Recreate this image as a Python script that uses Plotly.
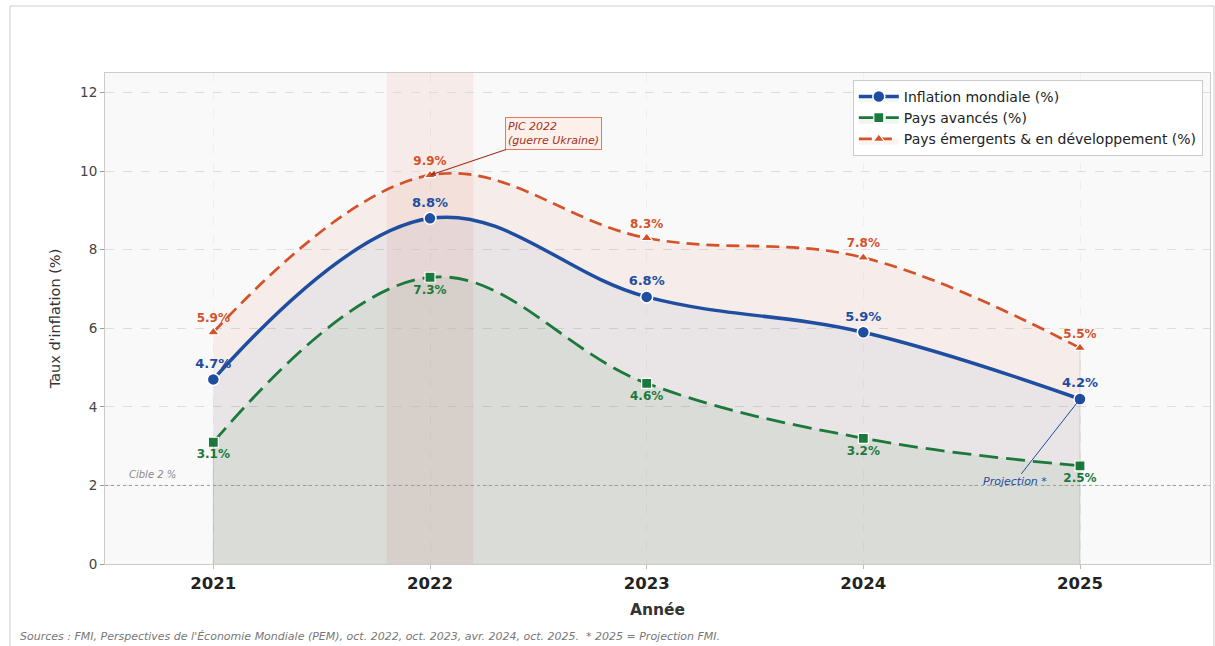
import plotly.graph_objs as go

annees = [2021, 2022, 2023, 2024, 2025]
inflation_mondiale = [4.7, 8.8, 6.8, 5.9, 4.2]
pays_avances = [3.1, 7.3, 4.6, 3.2, 2.5]
pays_emergents = [5.9, 9.9, 8.3, 7.8, 5.5]

BLEU = '#1f4ea1'
VERT = '#1b7a3b'
ORANGE = '#d4522a'
POLICE = 'DejaVu Sans'


def etiquettes(valeurs):
    return [f"{v:.1f}%" for v in valeurs]


trace_emergents = go.Scatter(
    x=annees,
    y=pays_emergents,
    mode='lines+markers+text',
    name='Pays émergents & en développement (%)',
    line=dict(color=ORANGE, width=2.7, dash='13px,7px', shape='spline', smoothing=1.1),
    marker=dict(symbol='triangle-up', size=10, color=ORANGE, line=dict(color='white', width=1.2)),
    fill='tozeroy',
    fillcolor='rgba(212,82,42,0.07)',
    text=etiquettes(pays_emergents),
    textposition='top center',
    textfont=dict(family=POLICE, size=12, color=ORANGE, weight='bold'),
    legendrank=3
)

trace_mondiale = go.Scatter(
    x=annees,
    y=inflation_mondiale,
    mode='lines+markers+text',
    name='Inflation mondiale (%)',
    line=dict(color=BLEU, width=3.5, shape='spline', smoothing=1.1),
    marker=dict(symbol='circle', size=12, color=BLEU, line=dict(color='white', width=1.5)),
    fill='tozeroy',
    fillcolor='rgba(31,78,161,0.06)',
    text=etiquettes(inflation_mondiale),
    textposition='top center',
    textfont=dict(family=POLICE, size=13, color=BLEU, weight='bold'),
    legendrank=1
)

trace_avances = go.Scatter(
    x=annees,
    y=pays_avances,
    mode='lines+markers+text',
    name='Pays avancés (%)',
    line=dict(color=VERT, width=2.8, dash='19px,8px', shape='spline', smoothing=1.1),
    marker=dict(symbol='square', size=10, color=VERT, line=dict(color='white', width=1.2)),
    fill='tozeroy',
    fillcolor='rgba(27,122,59,0.07)',
    text=etiquettes(pays_avances),
    textposition='bottom center',
    textfont=dict(family=POLICE, size=12, color=VERT, weight='bold'),
    legendrank=2
)

data = [trace_emergents, trace_mondiale, trace_avances]

layout = go.Layout(
    width=1215,
    height=646,
    paper_bgcolor='white',
    plot_bgcolor='#f9f9f9',
    font=dict(family=POLICE, color='#333333'),
    showlegend=True,
    legend=dict(
        x=0.9935, y=0.986,
        xanchor='right', yanchor='top',
        bgcolor='white',
        bordercolor='#cccccc',
        borderwidth=1,
        font=dict(family=POLICE, size=14, color='#222222'),
        tracegroupgap=0,
        itemwidth=40
    ),
    xaxis=dict(
        range=[2020.5, 2025.6],
        tickvals=annees,
        ticktext=[str(a) for a in annees],
        tickfont=dict(family=POLICE, size=16.5, color='#222222', weight='bold'),
        title=dict(text='Année', font=dict(family=POLICE, size=15.5, color='#333333', weight='bold'), standoff=12),
        showgrid=True,
        gridcolor='rgba(0,0,0,0.04)',
        griddash='dash',
        zeroline=False,
        showline=True,
        linecolor='#cccccc',
        linewidth=1,
        mirror=True,
        ticks='outside',
        ticklen=4,
        tickcolor='#bbbbbb'
    ),
    yaxis=dict(
        range=[0, 12.5],
        tickvals=[0, 2, 4, 6, 8, 10, 12],
        tickfont=dict(family=POLICE, size=13.5, color='#444444'),
        title=dict(text="Taux d'inflation (%)", font=dict(family=POLICE, size=14.5, color='#333333'), standoff=16),
        showgrid=True,
        gridcolor='#dddddd',
        griddash='dash',
        zeroline=False,
        showline=True,
        linecolor='#cccccc',
        linewidth=1,
        mirror=True,
        ticks='outside',
        ticklen=4,
        tickcolor='#999999'
    ),
    margin=dict(l=105, r=5, t=73, b=82),
    shapes=[
        # bande 2022
        dict(type='rect', xref='x', yref='paper', x0=2021.8, x1=2022.2, y0=0, y1=1,
             fillcolor='rgba(212,82,42,0.08)', line=dict(width=0), layer='below'),
        # cible 2 %
        dict(type='line', xref='paper', yref='y', x0=0, x1=1, y0=2, y1=2,
             line=dict(color='#999999', width=1, dash='dot')),
        # bords du remplissage
        dict(type='line', xref='x', yref='y', x0=2021, x1=2021, y0=0, y1=3.1,
             line=dict(color='rgba(0,0,0,0.15)', width=1)),
        dict(type='line', xref='x', yref='y', x0=2025, x1=2025, y0=0, y1=5.5,
             line=dict(color='rgba(0,0,0,0.12)', width=1)),
        # cadre
        dict(type='rect', xref='paper', yref='paper', x0=-0.086, x1=1.0036, y0=-0.18, y1=1.1365,
             line=dict(color='#cccccc', width=1), fillcolor='rgba(0,0,0,0)')
    ],
    annotations=[
        dict(x=2022, y=9.9, xref='x', yref='y', ax=2022.57, ay=10.96, axref='x', ayref='y',
             text='<i>PIC 2022<br>(guerre Ukraine)</i>', showarrow=True,
             arrowhead=2, arrowsize=1, arrowwidth=1.1, arrowcolor='#a0301a',
             font=dict(family=POLICE, size=11, color='#a0301a'),
             bgcolor='#fdf0ea', bordercolor='#e07a5a', borderwidth=1, borderpad=2,
             align='left'),
        dict(x=2025, y=4.2, xref='x', yref='y', ax=2024.7, ay=2.09, axref='x', ayref='y',
             text='<i>Projection *</i>', showarrow=True,
             arrowhead=2, arrowsize=1, arrowwidth=1, arrowcolor=BLEU,
             font=dict(family=POLICE, size=11, color=BLEU)),
        dict(x=2020.6, y=2.1, xref='x', yref='y', xanchor='left', yanchor='bottom',
             text='<i>Cible 2 %</i>', showarrow=False,
             font=dict(family=POLICE, size=10, color='#888888')),
        dict(x=-0.079, y=-0.148, xref='paper', yref='paper', xanchor='left', yanchor='middle',
             text="<i>Sources : FMI, Perspectives de l'Économie Mondiale (PEM), oct. 2022, oct. 2023, avr. 2024, oct. 2025.  * 2025 = Projection FMI.</i>",
             showarrow=False, font=dict(family=POLICE, size=11, color='#777777'))
    ]
)

config = {'displayModeBar': False}

fig = go.Figure(data=data, layout=layout)
# pas de marge autour du graphique dans la page
fig.write_html("out.html", config=config, post_script="document.body.style.margin='0';")
